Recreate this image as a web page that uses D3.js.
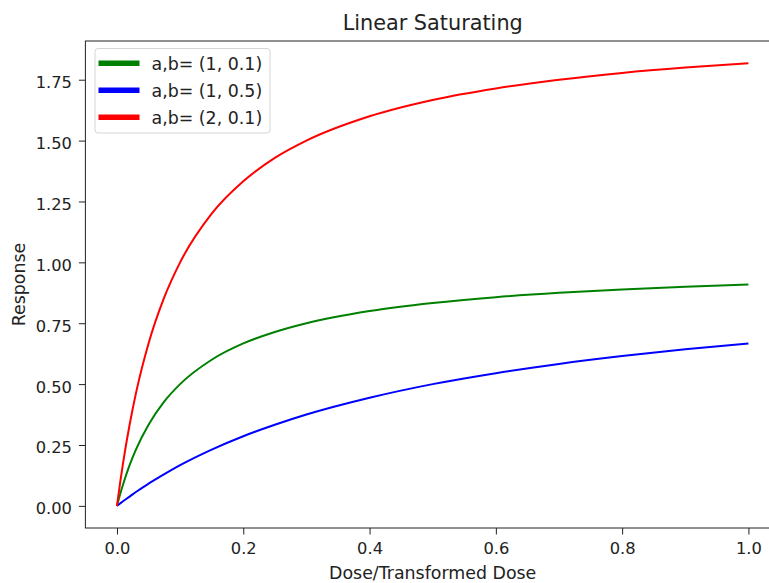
<!DOCTYPE html>
<html><head><meta charset="utf-8">
<script src="https://cdn.jsdelivr.net/npm/d3@7"></script>
<style>body{margin:0;background:#fff;overflow:hidden}svg{display:block;font-family:"DejaVu Sans",sans-serif}</style>
</head><body>
<script>
const doses = [0, 0.005, 0.01, 0.02, 0.03, 0.05, 0.075, 0.1, 0.15, 0.2, 0.25, 0.3, 0.4, 0.5, 0.6, 0.7, 0.8, 0.9, 1.0];
const greenVals = [0, 0.048, 0.091, 0.167, 0.231, 0.333, 0.429, 0.5, 0.6, 0.667, 0.714, 0.75, 0.8, 0.833, 0.857, 0.875, 0.889, 0.9, 0.909];
const blueVals  = [0, 0.010, 0.020, 0.038, 0.057, 0.091, 0.130, 0.167, 0.231, 0.286, 0.333, 0.375, 0.444, 0.5, 0.545, 0.583, 0.615, 0.643, 0.667];
const redVals   = [0, 0.095, 0.182, 0.333, 0.462, 0.667, 0.857, 1.0, 1.2, 1.333, 1.429, 1.5, 1.6, 1.667, 1.714, 1.75, 1.778, 1.8, 1.818];
const seriesNames = ["a,b= (1, 0.1)", "a,b= (1, 0.5)", "a,b= (2, 0.1)"];
const seriesColors = ["green", "blue", "red"];
const xTicks = [0, 0.2, 0.4, 0.6, 0.8, 1.0];
const yTicks = [0, 0.25, 0.5, 0.75, 1.0, 1.25, 1.5, 1.75];

(function () {
const W = 769, H = 583;
const svg = d3.select("body").append("svg").attr("width", W).attr("height", H);
const pL = 85.4, pR = 780, pT = 41, pB = 528;
const x = d3.scaleLinear().domain([-0.05, 1.05]).range([pL, pR]);
const y = d3.scaleLinear().domain([-0.0909, 1.909]).range([pB, pT]);
const tickFont = 16.3, labelFont = 17.4, titleFont = 20.8;

const xa = svg.append("g").attr("transform", `translate(0,${pB})`)
  .call(d3.axisBottom(x).tickValues(xTicks).tickFormat(d3.format(".1f")).tickSizeOuter(0).tickSize(6.5).tickPadding(7));
const ya = svg.append("g").attr("transform", `translate(${pL},0)`)
  .call(d3.axisLeft(y).tickValues(yTicks).tickFormat(d3.format(".2f")).tickSizeOuter(0).tickSize(6.5).tickPadding(7));
[xa, ya].forEach(a => {
  a.selectAll("text").attr("font-size", tickFont).attr("fill", "#222").attr("font-family", "DejaVu Sans");
  a.select(".domain").remove();
  a.selectAll("line").attr("stroke", "#222");
});
xa.selectAll("text").attr("y", 25.5).attr("dy", null);
ya.selectAll("text").attr("dy", null).attr("y", 8);

svg.append("rect").attr("x", pL).attr("y", pT).attr("width", pR - pL).attr("height", pB - pT)
  .attr("fill", "none").attr("stroke", "#222").attr("stroke-width", 1);

const series = [greenVals, blueVals, redVals];
const line = d3.line().x((d, i) => x(doses[i])).y(d => y(d)).curve(d3.curveMonotoneX);
series.forEach((vals, k) => {
  svg.append("path").datum(vals).attr("d", line).attr("fill", "none")
    .attr("stroke", seriesColors[k]).attr("stroke-width", 2);
});

svg.append("text").attr("x", (pL + pR) / 2).attr("y", 30).attr("text-anchor", "middle")
  .attr("font-size", titleFont).attr("fill", "#222").text("Linear Saturating");
svg.append("text").attr("x", (pL + pR) / 2).attr("y", 579).attr("text-anchor", "middle")
  .attr("font-size", labelFont).attr("fill", "#222").text("Dose/Transformed Dose");
svg.append("text").attr("transform", `translate(24.5,${(pT + pB) / 2}) rotate(-90)`).attr("text-anchor", "middle")
  .attr("font-size", labelFont).attr("fill", "#222").text("Response");

const lg = svg.append("g");
lg.append("rect").attr("x", 95).attr("y", 48.5).attr("width", 175).attr("height", 84.5).attr("rx", 3)
  .attr("fill", "white").attr("fill-opacity", 0.8).attr("stroke", "#d5d5d5");
seriesNames.forEach((n, k) => {
  const yy = 63.3 + k * 27;
  lg.append("line").attr("x1", 98.5).attr("x2", 139.5).attr("y1", yy).attr("y2", yy)
    .attr("stroke", seriesColors[k]).attr("stroke-width", 5.6);
  lg.append("text").attr("x", 151.5).attr("y", yy + 7).attr("font-size", labelFont).attr("fill", "#222").text(n);
});
})();
</script>
</body></html>
